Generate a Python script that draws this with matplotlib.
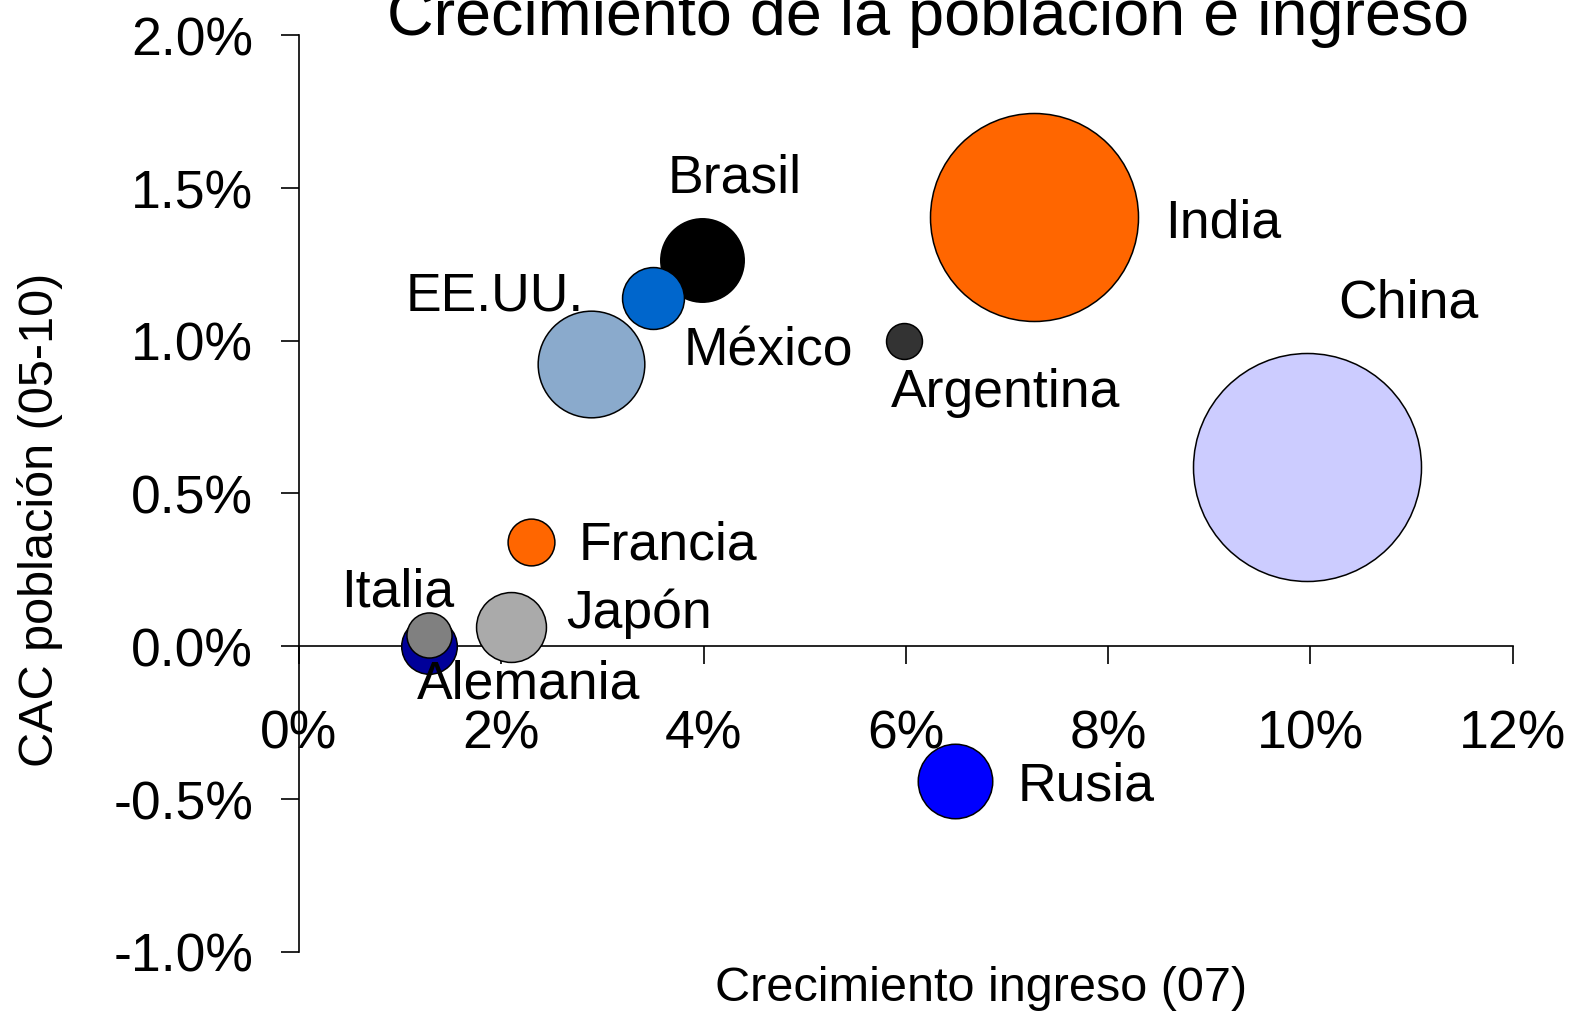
import numpy as np
import matplotlib
matplotlib.use('Agg')
import matplotlib.pyplot as plt
from matplotlib.ticker import FuncFormatter

plt.rcParams['font.family'] = ['Liberation Sans', 'DejaVu Sans']

# datos
paises = ['China', 'India', 'EE.UU.', 'Brasil', 'México', 'Rusia', 'Japón',
          'Alemania', 'Italia', 'Francia', 'Argentina']
crec_ingreso = [9.97, 7.27, 2.89, 3.99, 3.50, 6.49, 2.10, 1.29, 1.29, 2.29, 5.98]    # [%]
cac_poblacion = [0.586, 1.403, 0.923, 1.263, 1.14, -0.443, 0.061, 0.0, 0.035, 0.341, 1.0]  # [%]
poblacion = [1330, 1107, 291, 178, 98, 142, 125, 79, 52, 56, 33]   # [millones]

colores = ['#CCCCFF', '#FF6600', '#8AAACC', '#000000', '#0066CC', '#0000FF',
           '#AAAAAA', '#000099', '#808080', '#FF6600', '#333333']

# orden de dibujo (los de adelante al final)
orden = ['China', 'India', 'EE.UU.', 'Brasil', 'México', 'Rusia', 'Japón',
         'Alemania', 'Italia', 'Francia', 'Argentina']

# posicion de las etiquetas (x, y en datos, alineadas a la izquierda / linea base)
etiq_pos = {
    'Brasil': (3.65, 1.489),
    'India': (8.566, 1.342),
    'China': (10.277, 1.077),
    'EE.UU.': (1.058, 1.103),
    'México': (3.808, 0.923),
    'Argentina': (5.856, 0.786),
    'Francia': (2.770, 0.285),
    'Italia': (0.415, 0.134),
    'Japón': (2.641, 0.062),
    'Alemania': (1.167, -0.167),
    'Rusia': (7.102, -0.501),
}

W, H, DPI = 1569, 1012, 100
fig = plt.figure(figsize=(W / DPI, H / DPI), dpi=DPI)
ax = fig.add_axes([299 / W, 1 - 952.5 / H, (1512.5 - 299) / W, (952.5 - 36) / H])

# radio del circulo: China ~114 px
r_china = 114.0
for p in orden:
    i = paises.index(p)
    r_px = r_china * np.sqrt(poblacion[i] / poblacion[0])
    d_pt = 2 * r_px * 72.0 / DPI
    ax.scatter(crec_ingreso[i], cac_poblacion[i], s=d_pt ** 2, c=colores[i],
               edgecolors='black', linewidths=1.1, zorder=3)

for p in paises:
    x, y = etiq_pos[p]
    ax.text(x, y, p, fontsize=38.5, ha='left', va='baseline', zorder=5)

ax.set_xlim(0, 12)
ax.set_ylim(-1, 2)
ax.set_xticks(np.arange(0, 13, 2))
ax.set_yticks(np.arange(-1.0, 2.01, 0.5))
ax.xaxis.set_major_formatter(FuncFormatter(lambda v, pos: '%d%%' % round(v)))
ax.yaxis.set_major_formatter(FuncFormatter(lambda v, pos: '%.1f%%' % v))

ax.spines['top'].set_visible(False)
ax.spines['right'].set_visible(False)
ax.spines['bottom'].set_position(('data', 0))
ax.spines['left'].set_linewidth(1.2)
ax.spines['bottom'].set_linewidth(1.2)

ax.tick_params(axis='x', direction='out', length=13, width=1.2, pad=32, labelsize=38.5)
ax.tick_params(axis='y', direction='out', length=13, width=1.2, pad=20, labelsize=38.5)

fig.text(928 / W, 1 - 35 / H, 'Crecimiento de la población e ingreso',
         fontsize=46.5, ha='center', va='baseline')
fig.text(981 / W, 1 - 1001 / H, 'Crecimiento ingreso (07)',
         fontsize=35, ha='center', va='baseline')
fig.text(40 / W, 1 - 520 / H, 'CAC población (05-10)',
         fontsize=35, ha='center', va='center', rotation=90)

fig.savefig('out.png', dpi=DPI)
